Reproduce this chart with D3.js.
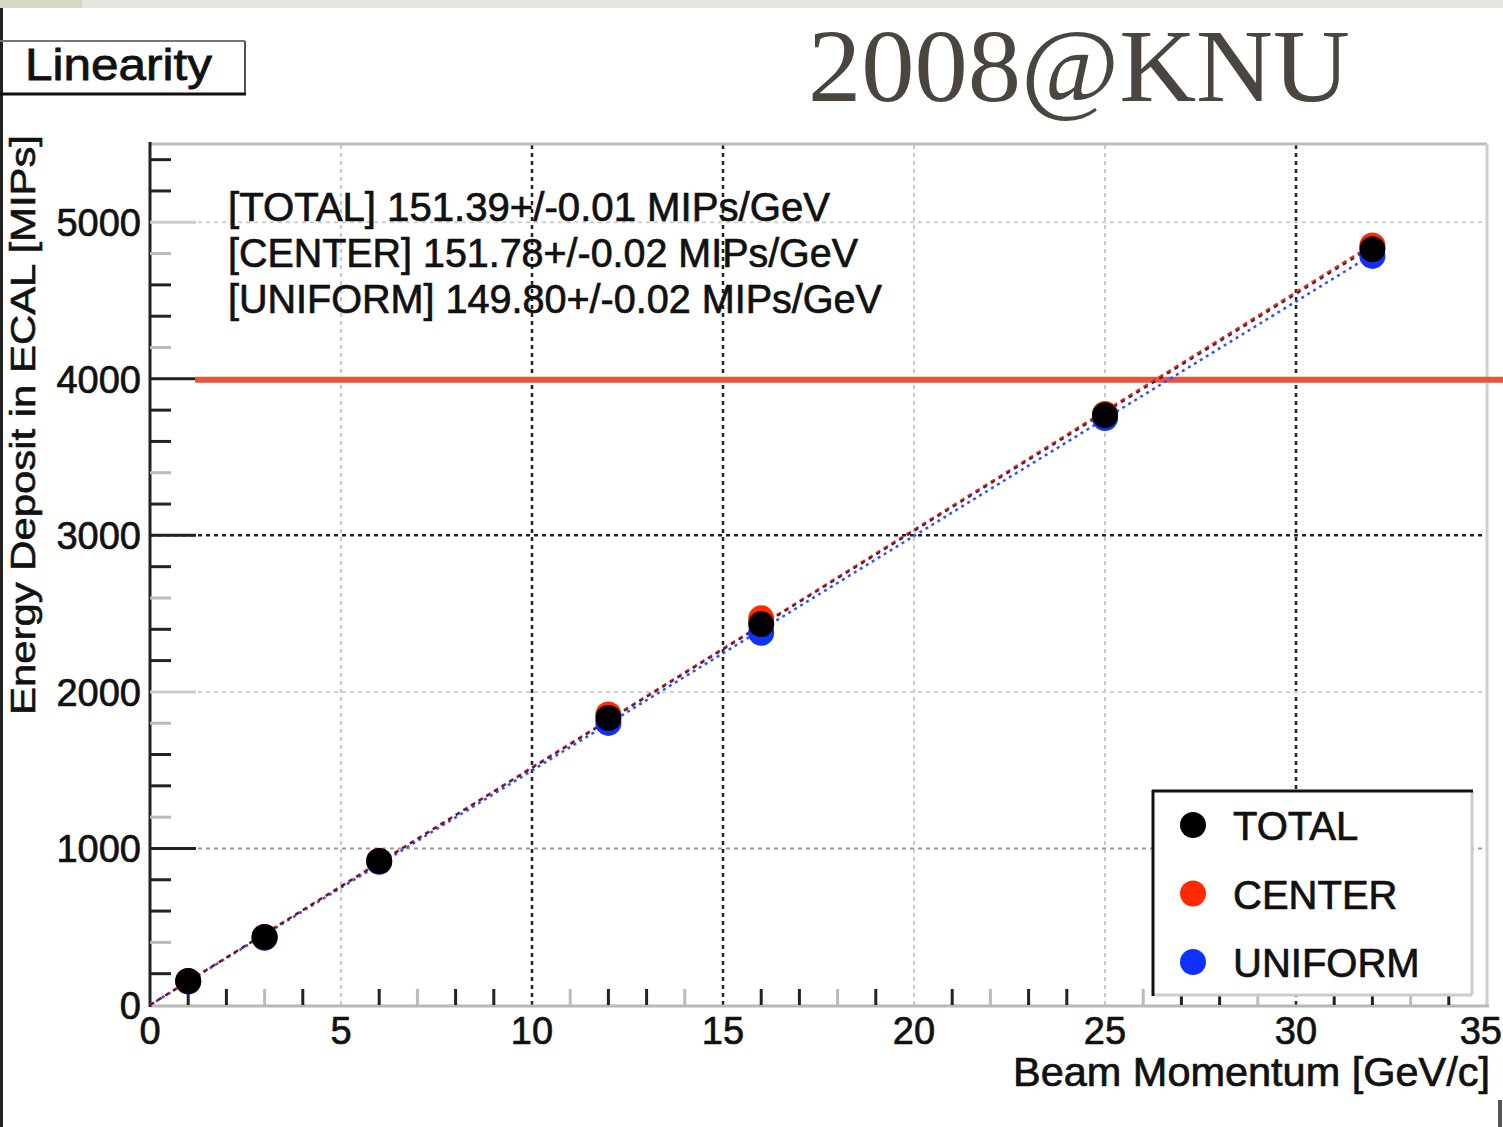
<!DOCTYPE html>
<html lang="en">
<head>
    <meta charset="UTF-8">
    <title>Linearity</title>
    <script src="https://d3js.org/d3.v7.min.js"></script>
    <style>
        body { margin: 0; background: #fff; }
        svg { display: block; font-family: "Liberation Sans", Arial, sans-serif; }
    </style>
</head>
<body>
    <div id="chart"></div>
    <script>
        // Data
        var momenta = [1, 3, 6, 12, 16, 25, 32];
        var totalVals = [153, 434, 920, 1833, 2433, 3768, 4828];
        var centerVals = [153, 434, 922, 1856, 2470, 3775, 4852];
        var uniformVals = [150, 430, 915, 1802, 2378, 3750, 4785];

        // fit lines: end points only
        var fitX = [0, 32];
        var fitTotal = [0, 4844];
        var fitCenter = [0, 4857];
        var fitUniform = [0, 4794];

        var xTicks = [0, 5, 10, 15, 20, 25, 30, 35];
        var yTicks = [0, 1000, 2000, 3000, 4000, 5000];
        var fitText = [
            "[TOTAL] 151.39+/-0.01 MIPs/GeV",
            "[CENTER] 151.78+/-0.02 MIPs/GeV",
            "[UNIFORM] 149.80+/-0.02 MIPs/GeV"
        ];
        var legendNames = ["TOTAL", "CENTER", "UNIFORM"];
        var legendColors = ["#000000", "#ff2a00", "#1030ff"];
        var thresholdValue = 4000;

        var width = 1503, height = 1127;

        var svg = d3.select("#chart").append("svg")
            .attr("width", width)
            .attr("height", height);

        var x = d3.scaleLinear().domain([0, 35]).range([150, 1487]);
        var y = d3.scaleLinear().domain([0, 5500]).range([1005, 144]);

        // top strip and left edge
        svg.append("rect").attr("x", 0).attr("y", 0).attr("width", width).attr("height", 8).attr("fill", "#e7e7e2");
        svg.append("rect").attr("x", 0).attr("y", 0).attr("width", 82).attr("height", 8).attr("fill", "#d4dac2");
        svg.append("line").attr("x1", 1.5).attr("x2", 1.5).attr("y1", 8).attr("y2", height)
            .attr("stroke", "#222").attr("stroke-width", 3);

        // Linearity title box
        svg.append("line").attr("x1", 0).attr("x2", 245).attr("y1", 41).attr("y2", 41).attr("stroke", "#777").attr("stroke-width", 2);
        svg.append("line").attr("x1", 245).attr("x2", 245).attr("y1", 41).attr("y2", 95).attr("stroke", "#555").attr("stroke-width", 2);
        svg.append("line").attr("x1", 0).attr("x2", 246).attr("y1", 94).attr("y2", 94).attr("stroke", "#111").attr("stroke-width", 3);
        svg.append("text").attr("x", 25).attr("y", 80)
            .attr("font-size", 44).attr("textLength", 187).attr("lengthAdjust", "spacingAndGlyphs")
            .attr("fill", "#111").attr("stroke", "#111").attr("stroke-width", 0.8)
            .text("Linearity");

        // big stamp
        svg.append("text").attr("x", 808).attr("y", 101)
            .attr("font-family", "'Liberation Serif', 'DejaVu Serif', serif")
            .attr("font-size", 104).attr("textLength", 542).attr("lengthAdjust", "spacingAndGlyphs")
            .attr("fill", "#4a453e")
            .text("2008@KNU");

        // grid
        var darkX = [10, 15, 30];
        svg.append("g").selectAll("line").data(xTicks.slice(1))
            .join("line")
            .attr("x1", d => x(d)).attr("x2", d => x(d))
            .attr("y1", y(0)).attr("y2", y(5500))
            .attr("stroke", d => darkX.indexOf(d) >= 0 ? "#222" : "#c8c8c8")
            .attr("stroke-width", d => darkX.indexOf(d) >= 0 ? 2.5 : 2)
            .attr("stroke-dasharray", "4,4");

        svg.append("g").selectAll("line").data(yTicks.slice(1))
            .join("line")
            .attr("x1", x(0)).attr("x2", x(35))
            .attr("y1", d => y(d)).attr("y2", d => y(d))
            .attr("stroke", d => d === 3000 ? "#222" : (d === 1000 ? "#999" : "#cfcfcf"))
            .attr("stroke-width", d => d === 3000 ? 2.5 : 2)
            .attr("stroke-dasharray", "4,4");

        // frame
        svg.append("line").attr("x1", x(0)).attr("x2", x(35)).attr("y1", y(5500)).attr("y2", y(5500))
            .attr("stroke", "#bdbdbd").attr("stroke-width", 3);
        svg.append("line").attr("x1", x(35)).attr("x2", x(35)).attr("y1", y(5500)).attr("y2", y(0))
            .attr("stroke", "#cfcfcf").attr("stroke-width", 3);
        svg.append("line").attr("x1", x(0)).attr("x2", x(35) + 2).attr("y1", y(0) + 1).attr("y2", y(0) + 1)
            .attr("stroke", "#b8b8b8").attr("stroke-width", 3);
        svg.append("line").attr("x1", x(0)).attr("x2", x(0)).attr("y1", y(5500) - 2).attr("y2", y(0) + 2)
            .attr("stroke", "#222").attr("stroke-width", 3);

        // y ticks (inside)
        var yMinor = d3.range(0, 5500, 200).filter(d => d % 1000 !== 0);
        svg.append("g").selectAll("line").data(yMinor)
            .join("line")
            .attr("x1", x(0)).attr("x2", x(0) + 21)
            .attr("y1", d => y(d)).attr("y2", d => y(d))
            .attr("stroke", (d, i) => i % 3 === 1 ? "#bbb" : "#222").attr("stroke-width", 3);
        svg.append("g").selectAll("line").data(yTicks.slice(1))
            .join("line")
            .attr("x1", x(0)).attr("x2", x(0) + 46)
            .attr("y1", d => y(d)).attr("y2", d => y(d))
            .attr("stroke", d => d === 2000 || d === 5000 ? "#ccc" : "#222").attr("stroke-width", 3);

        // x ticks (inside)
        var xMinor = d3.range(1, 35).filter(d => d % 5 !== 0);
        svg.append("g").selectAll("line").data(xMinor)
            .join("line")
            .attr("x1", d => x(d)).attr("x2", d => x(d))
            .attr("y1", y(0)).attr("y2", y(0) - 16)
            .attr("stroke", (d, i) => i % 3 === 2 ? "#bbb" : "#222").attr("stroke-width", 3);

        // tick labels
        svg.append("g").selectAll("text").data(yTicks)
            .join("text")
            .attr("x", 141).attr("y", d => y(d) + 14)
            .attr("text-anchor", "end")
            .attr("font-size", 38).attr("fill", "#111").attr("stroke", "#111").attr("stroke-width", 0.7)
            .text(d => d);
        svg.append("g").selectAll("text").data(xTicks)
            .join("text")
            .attr("x", d => d === 35 ? 1502 : x(d)).attr("y", 1044)
            .attr("text-anchor", d => d === 35 ? "end" : "middle")
            .attr("font-size", 38).attr("fill", "#111").attr("stroke", "#111").attr("stroke-width", 0.7)
            .text(d => d);

        // axis titles
        svg.append("text").attr("x", 1490).attr("y", 1086)
            .attr("text-anchor", "end")
            .attr("font-size", 40).attr("textLength", 477).attr("lengthAdjust", "spacingAndGlyphs")
            .attr("fill", "#111").attr("stroke", "#111").attr("stroke-width", 0.7)
            .text("Beam Momentum [GeV/c]");
        svg.append("text")
            .attr("transform", "translate(35,135) rotate(-90)")
            .attr("text-anchor", "end")
            .attr("font-size", 35).attr("textLength", 580).attr("lengthAdjust", "spacingAndGlyphs")
            .attr("fill", "#111").attr("stroke", "#111").attr("stroke-width", 0.6)
            .text("Energy Deposit in ECAL [MIPs]");

        // fit result text
        var fitLens = [602, 630, 654];
        svg.append("g").selectAll("text").data(fitText)
            .join("text")
            .attr("x", 228).attr("y", (d, i) => 221 + i * 46)
            .attr("font-size", 40)
            .attr("textLength", (d, i) => fitLens[i]).attr("lengthAdjust", "spacingAndGlyphs")
            .attr("fill", "#111").attr("stroke", "#111").attr("stroke-width", 0.7)
            .text(d => d);

        // threshold line
        svg.append("line")
            .attr("x1", 195).attr("x2", width)
            .attr("y1", y(thresholdValue) + 1).attr("y2", y(thresholdValue) + 1)
            .attr("stroke", "#e6553a").attr("stroke-width", 6);

        // fit lines
        var line = d3.line().x(d => x(d[0])).y(d => y(d[1]));
        function fitPts(vals) { return fitX.map((v, i) => [v, vals[i]]); }
        svg.append("path").attr("d", line(fitPts(fitUniform)))
            .attr("fill", "none").attr("stroke", "#3050ff").attr("stroke-width", 2.5).attr("stroke-dasharray", "3,4");
        svg.append("path").attr("d", line(fitPts(fitCenter)))
            .attr("fill", "none").attr("stroke", "#e03020").attr("stroke-width", 2.5).attr("stroke-dasharray", "5,4");
        svg.append("path").attr("d", line(fitPts(fitTotal)))
            .attr("fill", "none").attr("stroke", "#402050").attr("stroke-width", 2).attr("stroke-dasharray", "4,5");

        // points: uniform, center, then total on top
        var series = [
            { vals: uniformVals, color: legendColors[2] },
            { vals: centerVals, color: legendColors[1] },
            { vals: totalVals, color: legendColors[0] }
        ];
        series.forEach(function (s) {
            svg.append("g").selectAll("circle").data(momenta)
                .join("circle")
                .attr("cx", d => x(d))
                .attr("cy", (d, i) => y(s.vals[i]))
                .attr("r", 13)
                .attr("fill", s.color);
        });

        // legend
        var lg = svg.append("g");
        lg.append("rect").attr("x", 1153).attr("y", 791).attr("width", 319).attr("height", 204)
            .attr("fill", "#fff").attr("stroke", "none");
        lg.append("line").attr("x1", 1472).attr("x2", 1472).attr("y1", 791).attr("y2", 995).attr("stroke", "#ccc").attr("stroke-width", 3);
        lg.append("line").attr("x1", 1153).attr("x2", 1472).attr("y1", 995).attr("y2", 995).attr("stroke", "#ccc").attr("stroke-width", 3);
        lg.append("line").attr("x1", 1153).attr("x2", 1153).attr("y1", 790).attr("y2", 996).attr("stroke", "#111").attr("stroke-width", 3);
        lg.append("line").attr("x1", 1152).attr("x2", 1473).attr("y1", 791).attr("y2", 791).attr("stroke", "#111").attr("stroke-width", 3);
        legendNames.forEach(function (name, i) {
            var cy = 825 + i * 68.5;
            lg.append("circle").attr("cx", 1193).attr("cy", cy).attr("r", 13).attr("fill", legendColors[i]);
            lg.append("text").attr("x", 1233).attr("y", cy + 15)
                .attr("font-size", 40).attr("fill", "#111").attr("stroke", "#111").attr("stroke-width", 0.7)
                .text(name);
        });

        // small mark bottom right
        svg.append("rect").attr("x", 1498).attr("y", 1100).attr("width", 4).attr("height", 27).attr("fill", "#555");
    </script>
</body>
</html>
